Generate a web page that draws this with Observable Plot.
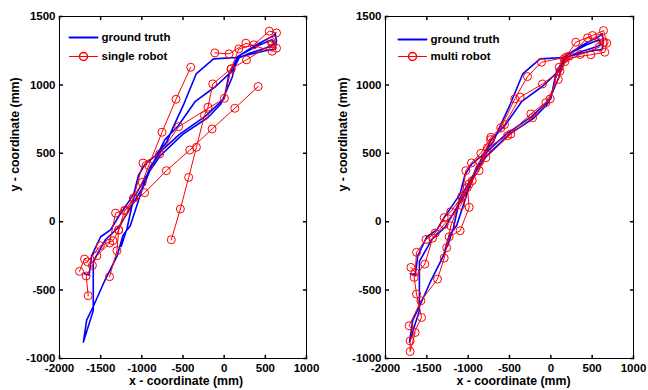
<!DOCTYPE html>
<html><head><meta charset="utf-8">
<script src="https://cdn.jsdelivr.net/npm/d3@7"></script>
<script src="https://cdn.jsdelivr.net/npm/@observablehq/plot@0.6"></script>
<style>
body{margin:0;background:#fff;}
#wrap{display:flex;width:648px;height:390px;overflow:hidden;}
</style></head><body><div id="wrap"></div>
<script>
const xTicks = [-2000, -1500, -1000, -500, 0, 500, 1000];
const xTickLabels = ["-2000", "-1500", "-1000", "-500", "0", "500", "1000"];
const yTicks = [-1000, -500, 0, 500, 1000, 1500];
const yTickLabels = ["-1000", "-500", "0", "500", "1000", "1500"];
const xLabel = "x - coordinate (mm)";
const yLabel = "y - coordinate (mm)";
const seriesNames = ["ground truth", "single robot", "multi robot"];

// ground truth trajectory [x, y] in mm
const groundTruth = [
  [-1700,-380],[-1640,-390],[-1610,-250],[-1500,-110],[-1380,-60],[-1280,40],[-1200,110],[-1100,200],
  [-1040,340],[-960,420],[-840,480],[-700,580],[-620,690],[-490,860],[-340,1080],[-130,1190],[150,1200],
  [380,1290],[600,1360],[620,1375],[635,1320],[620,1260],[500,1250],[160,1200],[60,1080],[0,900],
  [-230,770],[-540,640],[-760,520],[-900,400],[-1000,240],[-1120,120],[-1280,-40],[-1440,-130],
  [-1590,-290],[-1590,-650],[-1710,-880],[-1670,-720],[-1590,-620],[-1450,-430],[-1300,-250],
  [-1230,-100],[-1140,-30],[-1000,230],[-870,420],[-720,600],[-560,700],[-350,880],[-100,990],
  [110,1110],[200,1220],[420,1290],[580,1330],[610,1300],[560,1280],[300,1230],[150,1190],[100,1060],
  [-40,860],[-200,760],[-500,640],[-780,480],[-950,330],[-1100,170],[-1180,-50],[-1250,-180]
];

// single robot estimate, separate runs [x, y]
const singleRun1 = [[-1651,-541],[-1676,-397],[-1600,-320],[-1546,-249],[-1392,-156],[-1319,63],[-1201,85],
  [-1100,173],[-994,288],[-917,410],[-755,654],[-585,895],[-406,1129]];
const singleRun2 = [[-1757,-363],[-1696,-273],[-1659,-293],[-1505,-176],[-1351,-139],[-1282,-61],[-1210,80],
  [-966,212],[-702,373],[-418,524],[-147,678],[129,829],[413,988]];
const singleRun3 = [[-1392,-402],[-1302,-212],[-1282,-61],[-1100,173],[-986,429],[-783,495],[-552,695],
  [3,902],[84,1117],[178,1263],[360,1293],[547,1393],[636,1380]];
const singleRun4 = [[-114,1234],[60,1227],[263,1305],[583,1246],[636,1268],[567,1320]];
const singleRun5 = [[583,1300],[271,1183],[84,1117],[-139,1007],[-196,837],[-240,776],[-337,544],
  [-431,324],[-532,93],[-642,-132]];

// multi robot estimate [x, y]
const multiRobot = [
  [-1693,-334],[-1641,-371],[-1625,-224],[-1510,-130],[-1399,-83],[-1290,30],[-1210,73],[-1077,183],
  [-1028,373],[-960,430],[-847,500],[-726,617],[-605,685],[-436,898],[-282,1061],[-113,1166],[181,1202],
  [302,1312],[504,1361],[637,1397],[677,1305],[653,1239],[484,1220],[160,1190],[101,1129],[-8,898],
  [-242,788],[-524,629],[-767,540],[-867,373],[-988,276],[-1090,120],[-1290,-20],[-1430,-120],
  [-1524,-310],[-1653,-407],[-1625,-529],[-1564,-700],[-1702,-871],[-1702,-949],[-1641,-810],[-1714,-761],
  [-1572,-578],[-1371,-420],[-1290,-266],[-1230,-110],[-1097,-66],[-988,105],[-1010,250],[-860,440],
  [-730,600],[-560,710],[-371,910],[-101,1007],[110,1100],[220,1210],[444,1344],[585,1340],[645,1312],
  [585,1276],[355,1222],[170,1170],[90,1040],[-60,870],[-220,760],[-484,641],[-786,468],[-950,300],
  [-1077,183],[-1210,-30],[-1260,-190]
];

const singleRobot = [singleRun1, singleRun2, singleRun3, singleRun4, singleRun5]
  .flatMap((run, k) => run.map(p => ({x: p[0], y: p[1], run: k})));
const multiData = multiRobot.map(p => ({x: p[0], y: p[1], run: 0}));

const tickShape = {draw(ctx, l) { ctx.moveTo(0, 0); ctx.lineTo(0, -l); }};
const FONT = "'Liberation Sans', Arial, Helvetica, sans-serif";

function panel(est, estName, m, lg) {
  return Plot.plot({
    width: 324, height: 390,
    marginLeft: m.left, marginRight: m.right, marginTop: 16, marginBottom: 32,
    style: {fontFamily: FONT, fontSize: "11.5px", fontWeight: "bold", color: "#000", background: "#fff"},
    x: {domain: [-2000, 1000]},
    y: {domain: [-1000, 1500]},
    marks: [
      Plot.line(groundTruth, {x: d => d[0], y: d => d[1], stroke: "#0000ff", strokeWidth: 1.6, strokeLinejoin: "round"}),
      Plot.line(est, {x: "x", y: "y", z: "run", stroke: "#ff0000", strokeWidth: 1}),
      Plot.dot(est, {x: "x", y: "y", r: 4, stroke: "#ff0000", strokeWidth: 1, fill: "none"}),
      Plot.frame({stroke: "#000", strokeWidth: 1}),
      Plot.vector(xTicks, {x: d => d, frameAnchor: "bottom", rotate: 0, length: 3, anchor: "start", shape: tickShape, stroke: "#000"}),
      Plot.vector(xTicks, {x: d => d, frameAnchor: "top", rotate: 180, length: 3, anchor: "start", shape: tickShape, stroke: "#000"}),
      Plot.vector(yTicks, {y: d => d, frameAnchor: "left", rotate: 90, length: 3, anchor: "start", shape: tickShape, stroke: "#000"}),
      Plot.vector(yTicks, {y: d => d, frameAnchor: "right", rotate: -90, length: 3, anchor: "start", shape: tickShape, stroke: "#000"}),
      Plot.axisX(xTicks, {tickSize: 0, tickPadding: 5, tickFormat: d => xTickLabels[xTicks.indexOf(d)], label: null}),
      Plot.axisY(yTicks, {tickSize: 0, tickPadding: 4, tickFormat: d => yTickLabels[yTicks.indexOf(d)], label: null}),
      Plot.text([xLabel], {text: d => d, frameAnchor: "bottom", dx: m.xlx, dy: 23, lineAnchor: "middle", fontSize: 12.3}),
      Plot.text([yLabel], {text: d => d, frameAnchor: "left", dx: m.ylx, dy: 4, rotate: -90, lineAnchor: "middle", fontSize: 12.3}),
      // legend
      Plot.vector([seriesNames[0]], {frameAnchor: "top-left", dx: lg.x0, dy: lg.y0, rotate: 90, length: 28, anchor: "start", shape: tickShape, stroke: "#0000ff", strokeWidth: 2}),
      Plot.text([seriesNames[0]], {text: d => d, frameAnchor: "top-left", dx: lg.tx, dy: lg.y0, textAnchor: "start", lineAnchor: "middle"}),
      Plot.vector([estName], {frameAnchor: "top-left", dx: lg.x0, dy: lg.y1, rotate: 90, length: 28, anchor: "start", shape: tickShape, stroke: "#ff0000", strokeWidth: 1}),
      Plot.dot([estName], {frameAnchor: "top-left", dx: lg.x0 + 14, dy: lg.y1, r: 4, stroke: "#ff0000", fill: "none"}),
      Plot.text([estName], {text: d => d, frameAnchor: "top-left", dx: lg.tx, dy: lg.y1, textAnchor: "start", lineAnchor: "middle"})
    ]
  });
}

const wrap = document.getElementById("wrap");
wrap.append(panel(singleRobot, seriesNames[1], {left: 59, right: 18, xlx: 3, ylx: -44}, {x0: 10, y0: 21, y1: 40, tx: 42}));
wrap.append(panel(multiData, seriesNames[2], {left: 61, right: 15, xlx: 4, ylx: -42}, {x0: 13, y0: 23, y1: 40, tx: 45}));
</script>
</body></html>
